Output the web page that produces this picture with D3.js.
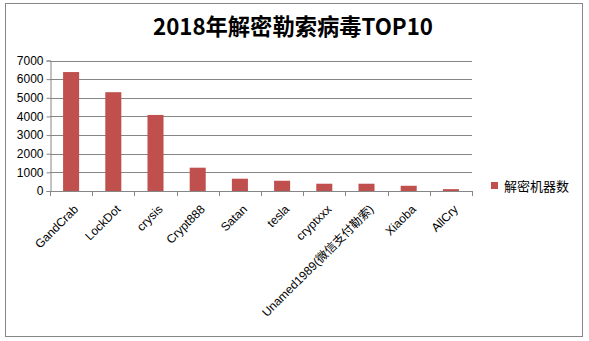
<!DOCTYPE html>
<html><head><meta charset="utf-8">
<script src="https://cdn.jsdelivr.net/npm/d3@7"></script>
<style>body{margin:0;background:#fff}</style>
</head><body>
<svg id="c" width="589" height="341"></svg>
<script>
const categories = ["GandCrab","LockDot","crysis","Crypt888","Satan","tesla","cryptxxx","Unamed1989(微信支付勒索)","Xiaoba","AllCry"];
const values = [6380,5300,4080,1250,660,550,390,390,280,100];
const yTicks = [0,1000,2000,3000,4000,5000,6000,7000];
const seriesName = "解密机器数";
const title = "2018年解密勒索病毒TOP10";

const svg = d3.select("#c");
svg.append("rect").attr("x",5.5).attr("y",3.5).attr("width",577).attr("height",333)
  .attr("fill","#fff").attr("stroke","#868686").attr("stroke-width",1);

const L=50, R=472, T=60.5, B=191;
const x = d3.scaleBand().domain(categories).range([L,R]).paddingInner(0.62).paddingOuter(0.31);
const y = d3.scaleLinear().domain([0,7000]).range([B,T]);

svg.append("text").attr("x",293).attr("y",35).attr("text-anchor","middle")
  .attr("font-family","'Noto Sans CJK SC', sans-serif").attr("font-weight","bold")
  .attr("font-size",23).attr("fill","#000").attr("textLength",280).attr("lengthAdjust","spacingAndGlyphs").text(title);

// gridlines
svg.append("g").selectAll("line").data(yTicks.slice(1)).join("line")
  .attr("x1",L).attr("x2",R).attr("y1",d=>Math.round(y(d))+0.5).attr("y2",d=>Math.round(y(d))+0.5)
  .attr("stroke","#868686").attr("stroke-width",1);

// y axis
const ya = svg.append("g").attr("transform",`translate(${L+0.5},0)`)
  .call(d3.axisLeft(y).tickValues(yTicks).tickSize(4).tickFormat(d3.format("d")));
ya.select(".domain").attr("stroke","#868686");
ya.selectAll(".tick line").attr("stroke","#868686");
ya.selectAll(".tick text").attr("font-family","'Liberation Sans', Arial, sans-serif").attr("font-size",12).attr("fill","#000").attr("x",-7);

// bars
svg.append("g").selectAll("rect").data(values).join("rect")
  .attr("x",(d,i)=>x(categories[i])).attr("width",x.bandwidth())
  .attr("y",d=>y(d)).attr("height",d=>B-y(d)).attr("fill","#C0504D");

// x axis
const step = (R-L)/categories.length;
const xa = svg.append("g");
xa.append("line").attr("x1",L).attr("x2",R).attr("y1",B+0.5).attr("y2",B+0.5).attr("stroke","#868686");
xa.selectAll("line.t").data(d3.range(categories.length+1)).join("line").attr("class","t")
  .attr("x1",i=>Math.round(L+i*step)+0.5).attr("x2",i=>Math.round(L+i*step)+0.5)
  .attr("y1",B).attr("y2",B+5).attr("stroke","#868686");
xa.selectAll("text").data(categories).join("text")
  .attr("transform",d=>`translate(${x(d)+x.bandwidth()/2+2},${B+13}) rotate(-45)`)
  .attr("text-anchor","end").attr("dy","0.7em")
  .attr("font-family","'Liberation Sans', 'Noto Sans CJK SC', Arial, sans-serif").attr("font-size",12).attr("fill","#000")
  .text(d=>d);

// legend
svg.append("rect").attr("x",491).attr("y",182).attr("width",7).attr("height",7).attr("fill","#C0504D");
svg.append("text").attr("x",504).attr("y",191).attr("font-family","'Noto Sans CJK SC', sans-serif")
  .attr("font-size",13).attr("fill","#000").text(seriesName);
</script>
</body></html>
